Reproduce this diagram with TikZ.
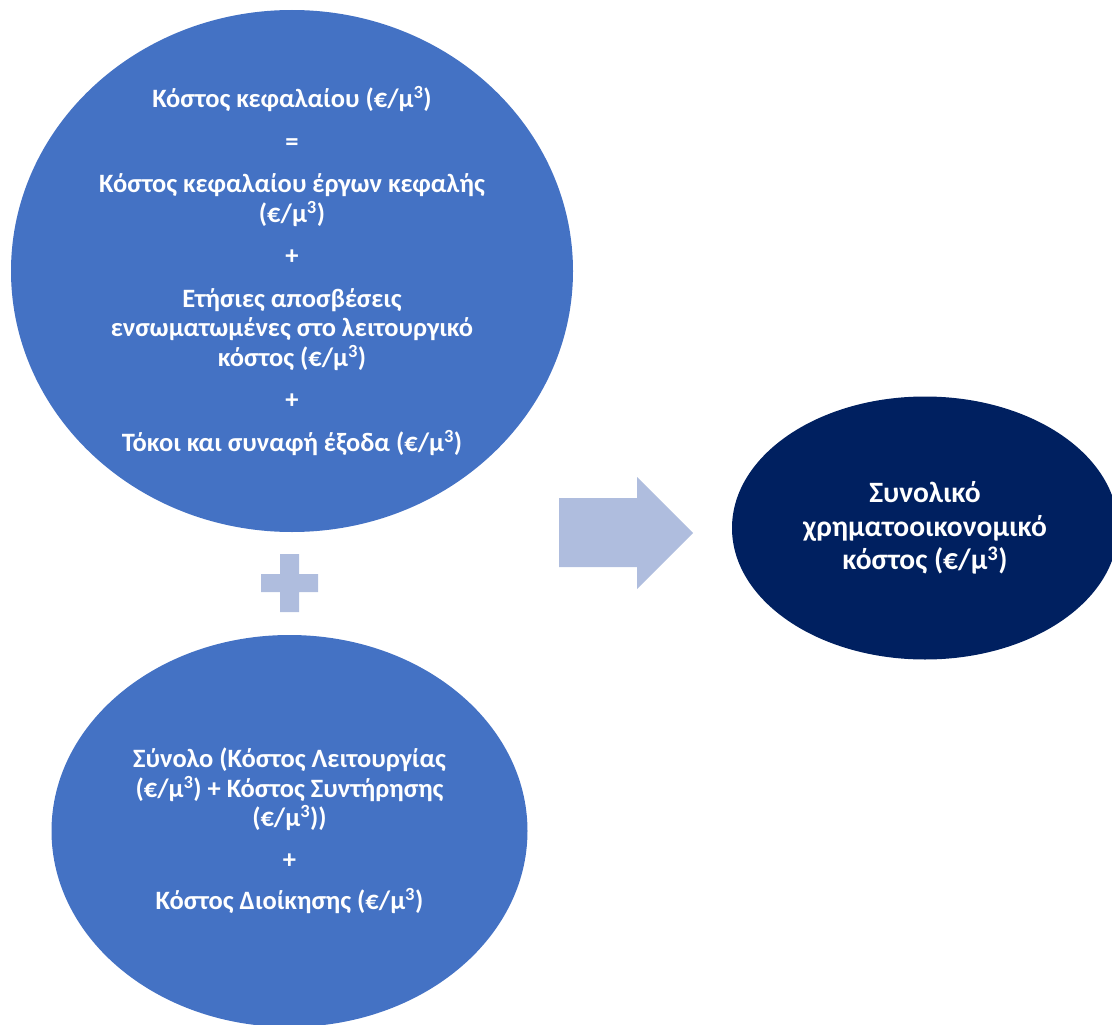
\documentclass[tikz,border=0pt]{standalone}
\usepackage{fontspec}
\setmainfont{Carlito}
\usetikzlibrary{shapes.geometric}
\definecolor{midblue}{HTML}{4472C4}
\definecolor{darknavy}{HTML}{002060}
\definecolor{paleblue}{HTML}{AFBDDE}
\newcommand{\cubic}{\textsuperscript{3}}
\tikzset{
  bubble/.style={ellipse, fill=midblue, draw=none, inner sep=0pt, text=white,
    align=center, font=\fontsize{26.5}{29.5}\selectfont\bfseries},
  darkbubble/.style={ellipse, fill=darknavy, draw=none, inner sep=0pt, text=white,
    align=center, font=\fontsize{29.5}{33.5}\selectfont\bfseries},
  pale/.style={fill=paleblue, draw=none}
}
\begin{document}
\begin{tikzpicture}[x=1pt, y=-1pt]
\useasboundingbox (0,0) rectangle (1112,1025);

\node[bubble, minimum width=562pt, minimum height=522pt] (capital) at (292,271)
 {Κόστος κεφαλαίου (€/μ\cubic)\\[13pt]
  =\\[13pt]
  Κόστος κεφαλαίου έργων κεφαλής\\
  (€/μ\cubic)\\[13pt]
  +\\[13pt]
  Ετήσιες αποσβέσεις\\
  ενσωματωμένες στο λειτουργικό\\
  κόστος (€/μ\cubic)\\[13pt]
  +\\[13pt]
  Τόκοι και συναφή έξοδα (€/μ\cubic)};

\node[bubble, minimum width=476pt, minimum height=392pt] (operating) at (289.5,831)
 {Σύνολο (Κόστος Λειτουργίας\\
  (€/μ\cubic) + Κόστος Συντήρησης\\
  (€/μ\cubic))\\[12pt]
  +\\[12pt]
  Κόστος Διοίκησης (€/μ\cubic)};

\node[darkbubble, minimum width=386pt, minimum height=263pt] (total) at (925,528)
 {Συνολικό\\
  χρηματοοικονομικό\\
  κόστος (€/μ\cubic)};

% plus sign between the two blue bubbles
\fill[pale] (280,554) -- (299,554) -- (299,574) -- (318,574) -- (318,592)
  -- (299,592) -- (299,612) -- (280,612) -- (280,592) -- (261,592)
  -- (261,574) -- (280,574) -- cycle;

% block arrow towards the total
\fill[pale] (559,498) -- (637,498) -- (637,477) -- (693,533) -- (637,589)
  -- (637,567) -- (559,567) -- cycle;
\end{tikzpicture}
\end{document}
